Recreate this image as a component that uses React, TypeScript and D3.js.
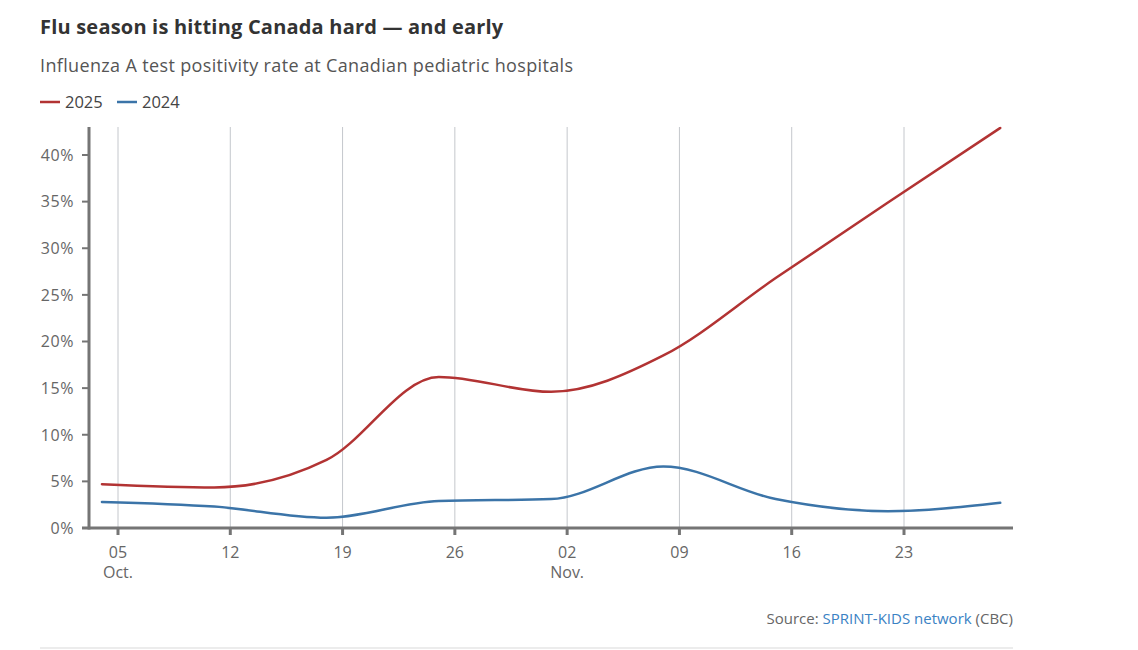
import * as d3 from "d3";

const WIDTH = 1138;
const HEIGHT = 650;

// weekly data points (Saturdays)
const dates2025 = ["2025-10-04", "2025-10-11", "2025-10-18", "2025-10-25", "2025-11-01", "2025-11-08", "2025-11-15", "2025-11-22", "2025-11-29"];
const values2025 = [4.7, 4.35, 7.3, 16.2, 14.6, 18.5, 26.8, 34.9, 42.9];

const dates2024 = ["2025-10-04", "2025-10-11", "2025-10-18", "2025-10-25", "2025-11-01", "2025-11-08", "2025-11-15", "2025-11-22", "2025-11-29"];
const values2024 = [2.8, 2.3, 1.1, 2.9, 3.1, 6.6, 3.1, 1.8, 2.7];

const tickDates = ["2025-10-05", "2025-10-12", "2025-10-19", "2025-10-26", "2025-11-02", "2025-11-09", "2025-11-16", "2025-11-23"];
const yTicks = [0, 5, 10, 15, 20, 25, 30, 35, 40];

const RED = "#b23333";
const BLUE = "#3b74a8";
const FONT = "'Open Sans', sans-serif";

const parse = d3.utcParse("%Y-%m-%d");

type Pt = { date: Date; value: number };

const series = [
  { name: "2025", color: RED, points: dates2025.map((d, i) => ({ date: parse(d)!, value: values2025[i] })) },
  { name: "2024", color: BLUE, points: dates2024.map((d, i) => ({ date: parse(d)!, value: values2024[i] })) },
];

const App = () => {
  const x = d3
    .scaleUtc()
    .domain([parse(tickDates[0])!, parse(tickDates[tickDates.length - 1])!])
    .range([118, 904]);
  const y = d3.scaleLinear().domain([0, 40]).range([528, 155]);

  const left = 89;
  const right = 1013;
  const top = 127;
  const bottom = 528;

  const line = d3
    .line<Pt>()
    .x((d) => x(d.date))
    .y((d) => y(d.value))
    .curve(d3.curveMonotoneX);

  const fmtDay = d3.utcFormat("%d");

  return (
    <svg
      width={WIDTH}
      height={HEIGHT}
      style={{ position: "absolute", left: 0, top: 0, background: "#fff" }}
      fontFamily={FONT}
    >
      <text x={40} y={34} fontSize={20} fontWeight={700} fill="#333" letterSpacing={0.2}>
        Flu season is hitting Canada hard — and early
      </text>
      <text x={40} y={72} fontSize={18} fill="#555" letterSpacing={0.35}>
        Influenza A test positivity rate at Canadian pediatric hospitals
      </text>

      {/* legend */}
      {series.map((s, i) => {
        const lx = 40 + i * 77;
        return (
          <g key={s.name}>
            <line x1={lx} x2={lx + 20} y1={102} y2={102} stroke={s.color} strokeWidth={2.5} />
            <text x={lx + 25} y={108} fontSize={16.5} fill="#444">
              {s.name}
            </text>
          </g>
        );
      })}

      {/* grid */}
      {tickDates.map((d) => (
        <line
          key={d}
          x1={x(parse(d)!)}
          x2={x(parse(d)!)}
          y1={top}
          y2={bottom}
          stroke="#c4c7cc"
          strokeWidth={1}
        />
      ))}

      {/* lines */}
      {series.map((s) => (
        <path
          key={s.name}
          d={line(s.points) || ""}
          fill="none"
          stroke={s.color}
          strokeWidth={2.5}
          strokeLinejoin="round"
          strokeLinecap="round"
        />
      ))}

      {/* y axis */}
      <line x1={left} x2={left} y1={top} y2={bottom + 1.5} stroke="#757575" strokeWidth={3} />
      {yTicks.map((t) => (
        <g key={t} transform={`translate(0,${y(t)})`}>
          <line x1={left - 7} x2={left} stroke="#757575" strokeWidth={2} />
          <text x={74} dy="0.36em" textAnchor="end" fontSize={16} fill="#666" letterSpacing={0.6}>
            {t}%
          </text>
        </g>
      ))}

      {/* x axis */}
      <line x1={82} x2={right} y1={bottom} y2={bottom} stroke="#757575" strokeWidth={3} />
      {tickDates.map((d, i) => {
        const dt = parse(d)!;
        const px = x(dt);
        const month = i === 0 ? "Oct." : dt.getUTCDate() <= 7 ? "Nov." : "";
        return (
          <g key={d} transform={`translate(${px},0)`}>
            <line y1={bottom} y2={bottom + 7} stroke="#757575" strokeWidth={3} />
            <text y={558} textAnchor="middle" fontSize={16} fill="#666">
              {fmtDay(dt)}
            </text>
            {month && (
              <text y={578} textAnchor="middle" fontSize={16} fill="#666">
                {month}
              </text>
            )}
          </g>
        );
      })}

      {/* source */}
      <text x={right} y={624} textAnchor="end" fontSize={15} fill="#666">
        Source: <tspan fill="#3a82c4">SPRINT-KIDS network</tspan> (CBC)
      </text>
      <line x1={40} x2={1013} y1={648} y2={648} stroke="#d9d9d9" strokeWidth={1} />
    </svg>
  );
};

export default App;
